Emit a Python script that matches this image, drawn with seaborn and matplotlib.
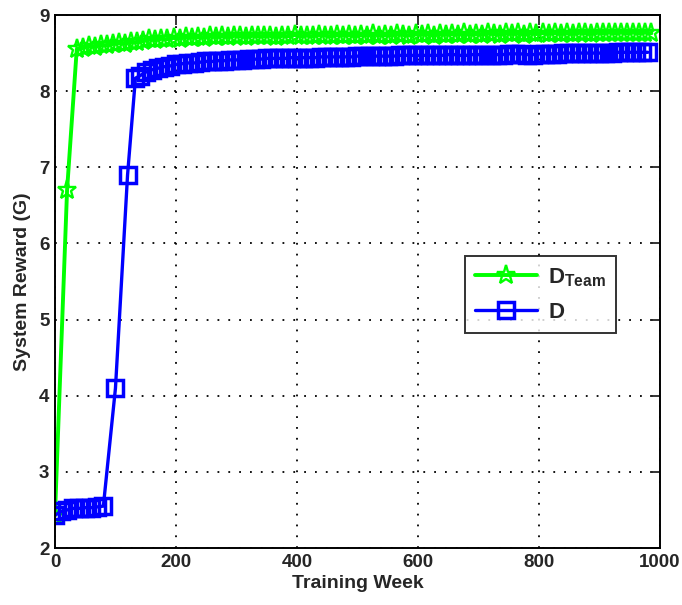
import numpy as np
import pandas as pd
import matplotlib
matplotlib.use("Agg")
import matplotlib.pyplot as plt
import seaborn as sns

# D_Team: logged weeks and system reward
team_weeks = [0, 20, 36] + list(range(46, 990, 10))
team_reward = [2.43, 6.70, 8.55,
               8.57, 8.59, 8.58, 8.61, 8.60, 8.62, 8.63, 8.62, 8.65, 8.64,
               8.66, 8.68, 8.67, 8.69, 8.68, 8.70, 8.69, 8.71, 8.70, 8.71,
               8.70, 8.72, 8.71, 8.72, 8.71, 8.73, 8.72, 8.71, 8.73, 8.72,
               8.72, 8.73, 8.71, 8.73, 8.72, 8.74, 8.72, 8.73, 8.72, 8.74,
               8.73, 8.72, 8.74, 8.73, 8.74, 8.72, 8.74, 8.73, 8.75, 8.73,
               8.74, 8.73, 8.75, 8.74, 8.73, 8.75, 8.74, 8.75, 8.73, 8.75,
               8.74, 8.75, 8.74, 8.76, 8.74, 8.75, 8.74, 8.76, 8.75, 8.74,
               8.76, 8.75, 8.76, 8.74, 8.76, 8.75, 8.76, 8.75, 8.77, 8.75,
               8.76, 8.75, 8.77, 8.76, 8.75, 8.77, 8.76, 8.77, 8.76, 8.77,
               8.76, 8.77, 8.76, 8.77, 8.76]

# D: logged weeks and system reward
plain_weeks = [0, 10, 20, 30, 40, 50, 60, 70, 80, 100, 120, 133] + list(range(140, 990, 10))
plain_reward = [2.43, 2.48, 2.50, 2.52, 2.52, 2.53, 2.53, 2.54, 2.55, 4.10, 6.90, 8.17,
                8.20, 8.25, 8.28, 8.30, 8.32, 8.33, 8.35, 8.36, 8.37, 8.37,
                8.38, 8.39, 8.39, 8.40, 8.40, 8.41, 8.41, 8.41, 8.42, 8.42,
                8.42, 8.43, 8.43, 8.43, 8.43, 8.44, 8.44, 8.44, 8.44, 8.44,
                8.45, 8.45, 8.45, 8.45, 8.45, 8.45, 8.46, 8.46, 8.46, 8.46,
                8.46, 8.46, 8.46, 8.47, 8.47, 8.47, 8.47, 8.47, 8.47, 8.47,
                8.47, 8.48, 8.48, 8.47, 8.47, 8.48, 8.48, 8.48, 8.48, 8.48,
                8.48, 8.49, 8.49, 8.49, 8.48, 8.48, 8.49, 8.49, 8.49, 8.49,
                8.50, 8.50, 8.50, 8.50, 8.50, 8.50, 8.50, 8.50, 8.50, 8.51,
                8.51, 8.51, 8.51, 8.51, 8.51]

series_labels = [r"$\mathbf{D_{Team}}$", r"$\mathbf{D}$"]
x_ticks = [0, 200, 400, 600, 800, 1000]
y_ticks = [2, 3, 4, 5, 6, 7, 8, 9]

sns.set_style("white")
plt.rcParams["font.family"] = ["Liberation Sans", "DejaVu Sans"]
plt.rcParams["font.weight"] = "bold"
plt.rcParams["mathtext.fontset"] = "custom"
plt.rcParams["mathtext.rm"] = "Liberation Sans:bold"
plt.rcParams["mathtext.bf"] = "Liberation Sans:bold"
plt.rcParams["mathtext.it"] = "Liberation Sans:bold"

team_df = pd.DataFrame({"week": team_weeks, "reward": team_reward})
plain_df = pd.DataFrame({"week": plain_weeks, "reward": plain_reward})

fig = plt.figure(figsize=(6.82, 6.05), dpi=100)
ax = fig.add_axes([0.0806, 0.0942, 0.887, 0.881])

sns.lineplot(data=team_df, x="week", y="reward", ax=ax, color="#00ff00",
             lw=2.8, marker="*", markersize=14, markerfacecolor="none",
             markeredgecolor="#00ff00", markeredgewidth=1.7,
             label=series_labels[0])
sns.lineplot(data=plain_df, x="week", y="reward", ax=ax, color="#0000ff",
             lw=2.4, marker="s", markersize=11, markerfacecolor="none",
             markeredgecolor="#0000ff", markeredgewidth=2.5,
             label=series_labels[1])

ax.set_xlim(0, 1000)
ax.set_ylim(2, 9)
ax.set_xticks(x_ticks)
ax.set_yticks(y_ticks)
ax.tick_params(direction="in", top=True, right=True, length=7, width=1.3,
               labelsize=13.5, pad=4)
for lab in ax.get_xticklabels() + ax.get_yticklabels():
    lab.set_fontweight("bold")
ax.grid(True, color="black", linestyle=(0, (1, 5)), linewidth=1.3)
for sp in ax.spines.values():
    sp.set_visible(True)
    sp.set_color("black")
    sp.set_linewidth(1.4)

ax.set_xlabel("Training Week", fontsize=14, fontweight="bold", labelpad=3)
ax.set_ylabel("System Reward (G)", fontsize=14, fontweight="bold", labelpad=6)

leg = ax.legend(loc="upper left", bbox_to_anchor=(0.678, 0.548), fontsize=16,
                frameon=True, fancybox=False, edgecolor="black",
                handlelength=2.8, borderpad=0.45, labelspacing=0.6,
                handletextpad=0.5, borderaxespad=0.0)
leg.get_frame().set_linewidth(1.4)

fig.savefig("out.png", dpi=100)
